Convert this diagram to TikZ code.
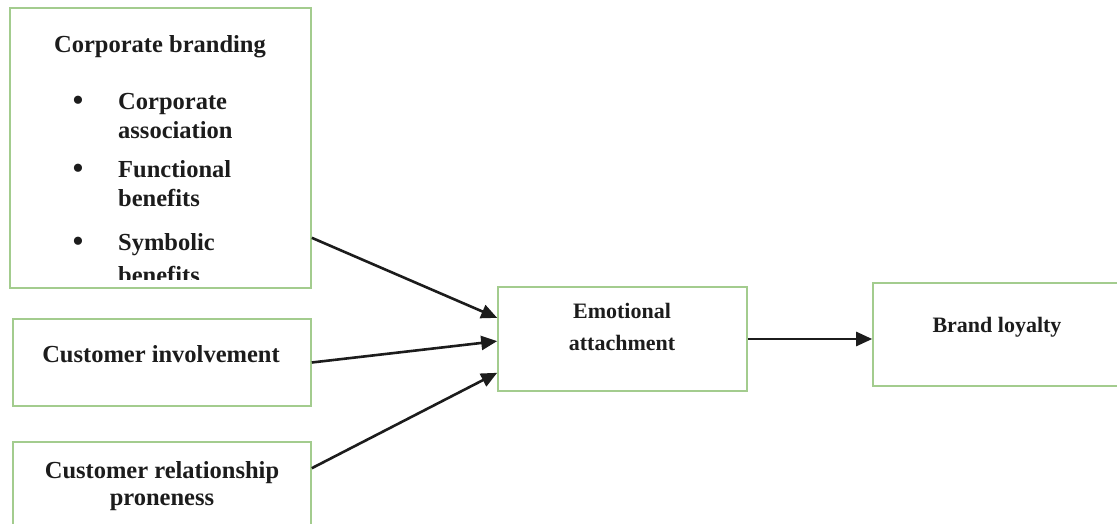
\documentclass[tikz,border=0pt]{standalone}
\usepackage{fontspec}
\setmainfont{Liberation Serif}
\usetikzlibrary{arrows.meta,positioning,calc}
\definecolor{ink}{HTML}{1C1C1C}
\definecolor{frame}{HTML}{A3CC8E}

\begin{document}
\begin{tikzpicture}[x=1pt, y=-1pt,
    box/.style={draw=frame, line width=1.6pt, inner sep=0pt},
    txt/.style={text=ink, inner sep=0pt, font=\fontsize{24.5}{29}\selectfont\bfseries},
    small/.style={txt, font=\fontsize{22}{31}\selectfont\bfseries},
    arr/.style={ink, line width=2.6pt, -{Triangle[length=16pt, width=14pt]}}]
  \useasboundingbox (0,0) rectangle (1117,524);

  % boxes
  \node[box, minimum width=301pt, minimum height=280pt] (corp) at (160.5,148) {};
  \node[box, minimum width=298pt, minimum height=87pt] (inv) at (162,362.5) {};
  \node[box, minimum width=298pt, minimum height=88pt] (rel) at (162,486) {};
  \node[box, minimum width=249pt, minimum height=104pt] (emo) at (622.5,339) {};
  \node[box, minimum width=249pt, minimum height=103pt] (loyal) at (997.5,334.5) {};

  % corporate branding list, cut off at the box bottom
  \node[txt, anchor=base] (corptitle) at (160,53) {Corporate branding};
  \begin{scope}
    \clip ($(corp.north west)+(2,2)$) rectangle ($(corp.south east)+(-2,-9)$);
    \foreach \y/\w in {110/Corporate, 139/association, 178/Functional,
                       207/benefits, 250/Symbolic, 283/benefits}
      \node[txt, anchor=base west] (item\y) at (118,\y) {\w};
    \foreach \y in {110,178,250}
      \node[txt, anchor=base, font=\fontsize{34}{34}\selectfont] (dot\y) at (78,\y+2) {\textbullet};
  \end{scope}

  % other labels
  \node[txt, anchor=base] (invtext) at (161,362) {Customer involvement};
  \node[txt, anchor=base] (reltext) at (162,478) {Customer relationship};
  \node[txt, anchor=base] (reltext2) at (162,505) {proneness};
  \node[small, anchor=base] (emotext) at (622,318) {Emotional};
  \node[small, anchor=base] (emotext2) at (622,350) {attachment};
  \node[small, anchor=base] (loyaltext) at (997,332) {Brand loyalty};

  % arrows
  \draw[arr] ($(corp.south east)+(0,-51)$) -- ($(emo.north west)!0.30!(emo.south west)$);
  \draw[arr] (inv.east) -- ($(emo.north west)!0.52!(emo.south west)$);
  \draw[arr] ($(rel.north east)+(0,27)$) -- ($(emo.north west)!0.82!(emo.south west)$);
  \draw[arr] (emo.east) -- (loyal.west |- emo.east);
\end{tikzpicture}
\end{document}
